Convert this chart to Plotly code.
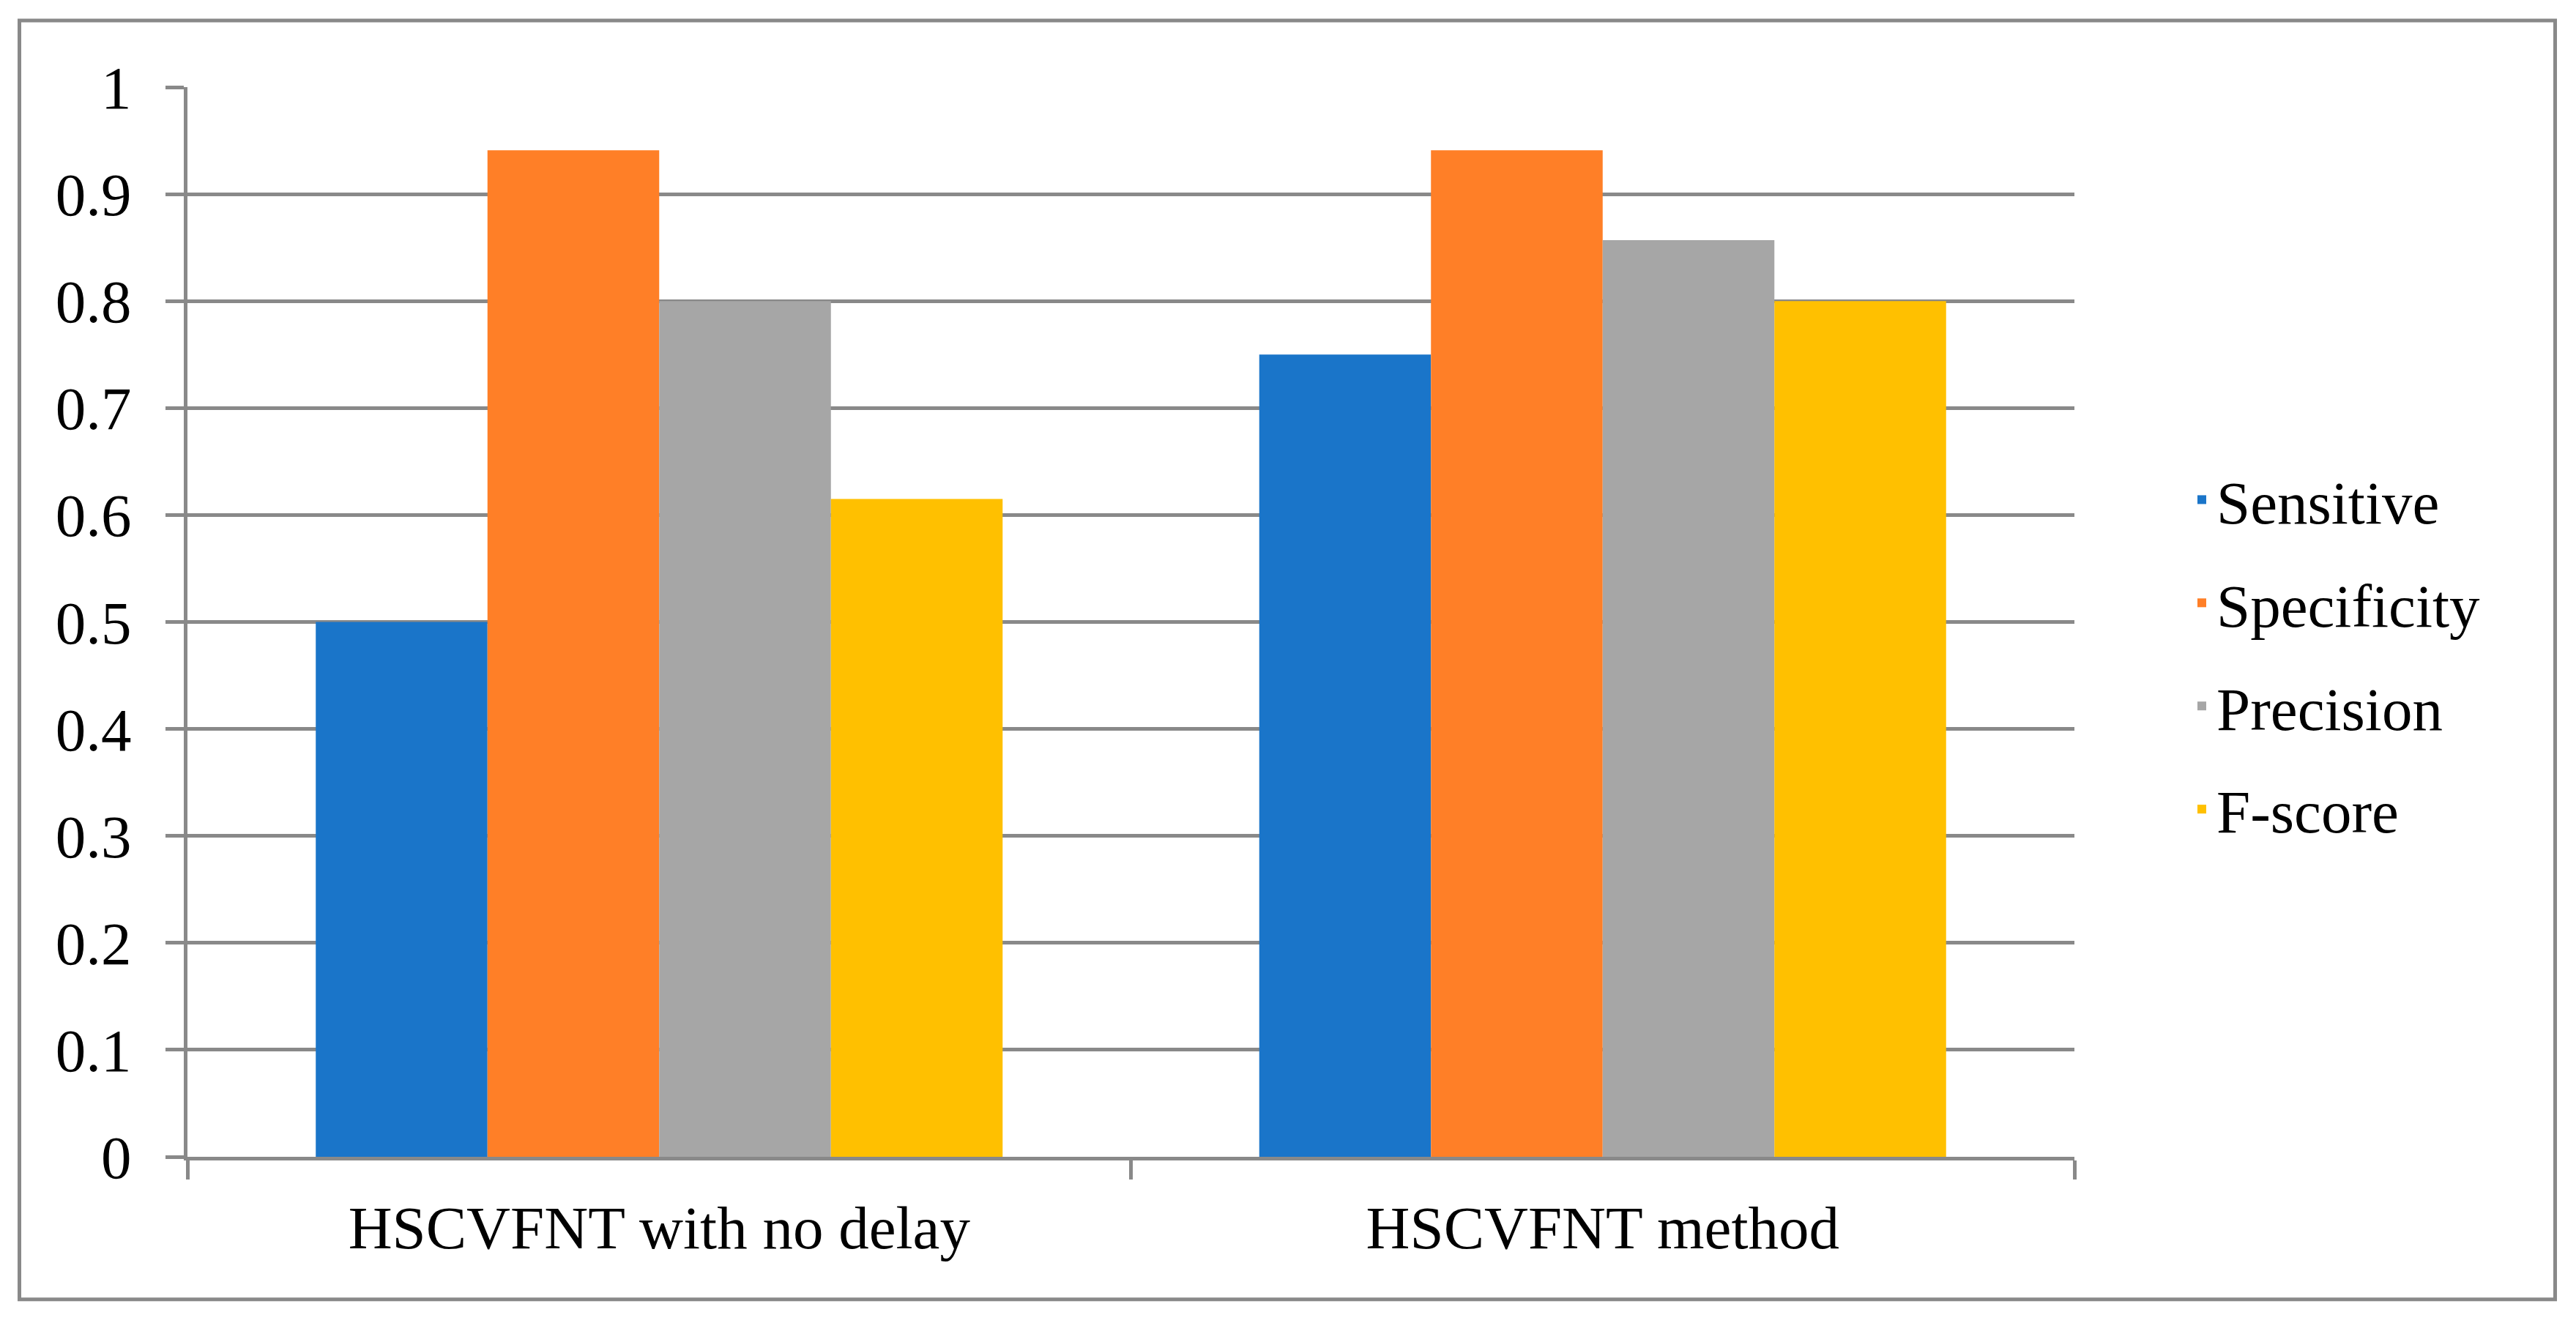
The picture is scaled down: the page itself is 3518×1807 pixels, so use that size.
import plotly.graph_objects as go

categories = ["HSCVFNT with no delay", "HSCVFNT method"]
series_names = ["Sensitive", "Specificity", "Precision", "F-score"]
sensitive = [0.5, 0.75]
specificity = [0.941, 0.941]
precision = [0.8, 0.857]
f_score = [0.615, 0.8]
series_values = [sensitive, specificity, precision, f_score]
colors = ["#1A75C9", "#FF7F27", "#A6A6A6", "#FFC000"]
y_ticks = [0, 0.1, 0.2, 0.3, 0.4, 0.5, 0.6, 0.7, 0.8, 0.9, 1]

FONT = "Liberation Serif"
GRID = "#898989"
FS = 83

fig = go.Figure()
for name, vals, col in zip(series_names, series_values, colors):
    fig.add_trace(go.Bar(
        x=categories, y=vals, name=name, legendgroup=name,
        marker=dict(color=col, line=dict(width=0)),
    ))

# page body has an 8px default margin; lay out in page coordinates minus it
OFF = 8
W, H = 3518 - OFF, 1807 - OFF
plot_l, plot_r = 256 - OFF, 2833 - OFF
plot_t, plot_b = 118.5 - OFF, 1580.5 - OFF
L, R, T, B = plot_l, W - plot_r, plot_t, H - plot_b
pw, ph = plot_r - plot_l, plot_b - plot_t

def px(xf):
    return (xf - plot_l) / pw

def py(yf):
    return (plot_b - yf) / ph

fig.update_layout(
    width=W, height=H,
    margin=dict(l=L, r=R, t=T, b=B, pad=0),
    paper_bgcolor="white", plot_bgcolor="white",
    font=dict(family=FONT, size=FS, color="black"),
    barmode="group", bargap=0.272, bargroupgap=0,
    showlegend=True,
    legend=dict(
        x=px(2979), xanchor="left",
        y=py(886), yanchor="middle",
        font=dict(family=FONT, size=FS, color="black"),
        tracegroupgap=30, itemwidth=30,
        bgcolor="rgba(0,0,0,0)",
    ),
    xaxis=dict(
        type="category", tickson="boundaries",
        ticks="outside", ticklen=26, tickwidth=5, tickcolor=GRID,
        showline=True, linecolor=GRID, linewidth=5,
        showgrid=False, ticklabelstandoff=20,
    ),
    yaxis=dict(
        range=[0, 1], tickvals=y_ticks, ticktext=[f"{v:g}" for v in y_ticks],
        ticks="outside", ticklen=25, tickwidth=5, tickcolor=GRID,
        showline=True, linecolor=GRID, linewidth=5,
        showgrid=True, gridcolor=GRID, gridwidth=5,
        zeroline=False, ticklabelstandoff=30,
    ),
    shapes=[dict(
        type="rect", xref="paper", yref="paper",
        x0=px(26.5 - OFF), x1=px(3489.5 - OFF),
        y0=py(1775.5 - OFF), y1=py(27.5 - OFF),
        line=dict(color=GRID, width=5), fillcolor="rgba(0,0,0,0)", layer="below",
    )],
)

fig.write_html("out.html")
